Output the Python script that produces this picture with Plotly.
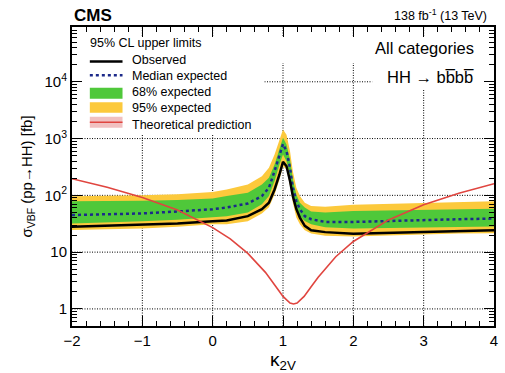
import math
import plotly.graph_objects as go

# kappa_2V scan points for the limit curves
k2v = [-2, -1.5, -1, -0.5, 0, 0.2, 0.5, 0.7, 0.8, 0.88, 0.95, 1.0, 1.05, 1.1,
       1.14, 1.19, 1.24, 1.31, 1.4, 1.6, 2, 2.5, 3, 3.5, 4]

# 95% CL upper limits on sigma_VBF(pp->HH) [fb]
observed = [28, 29, 30, 32, 35, 36, 43, 57, 74, 127, 233, 390, 325, 179,
            97, 57, 40.6, 29, 24.3, 22.5, 21, 21.8, 22.7, 23.5, 24.3]
expected = [45, 46, 48, 52, 57, 61, 72, 97, 136, 267, 525, 800, 600, 305,
            136, 79, 57, 43, 38, 34, 34, 35.5, 37, 38, 39]
exp68_up = [79, 79, 80, 83, 88, 97, 111, 155, 205, 350, 690, 1030, 785, 425,
            190, 104, 74, 61, 52, 50, 53, 54, 55, 57, 58]
exp68_dn = [32, 33, 35, 37, 40.6, 43, 50, 70, 97, 179, 350, 525, 400, 218,
            97, 57, 43, 35.4, 31, 27.5, 26, 26.5, 27, 27.7, 28.3]
exp95_up = [96, 97, 100, 105, 114, 127, 155, 218, 305, 525, 960, 1450, 1170, 600,
            267, 136, 97, 74, 65, 63, 68, 71, 74, 77, 79]
exp95_dn = [24.6, 25, 26, 28, 31, 31, 35, 48, 62, 104, 190, 325, 285, 146,
            74, 40.6, 31, 24.3, 21.3, 19.4, 18.8, 19.7, 20.7, 21.2, 21.6]

# theoretical VBF HH cross section vs kappa_2V
k2v_th = [-2, -1.5, -1, -0.5, 0, 0.25, 0.5, 0.75, 0.9, 1.0, 1.1, 1.15, 1.2,
          1.3, 1.4, 1.5, 1.75, 2, 2.5, 3, 3.5, 4]
theory = [196, 139, 92, 55, 27, 17.1, 9.5, 4.4, 2.45, 1.66, 1.27, 1.22, 1.27,
          1.66, 2.45, 3.6, 8.3, 15.4, 36.9, 68, 109, 160]

x_range = [-2, 4]
y_range_log = [-0.301, 4.965]
x_ticks = [-2, -1, 0, 1, 2, 3, 4]
x_ticktext = ["\u22122", "\u22121", "0", "1", "2", "3", "4"]
y_ticks = [1, 10, 100, 1000, 10000]
y_ticktext = ["1", "10", "10<sup>2</sup>", "10<sup>3</sup>", "10<sup>4</sup>"]

legend_labels = ["Observed", "Median expected", "68% expected",
                 "95% expected", "Theoretical prediction"]

GREEN = "#4fc83a"
YELLOW = "#fcc93c"
NAVY = "#1c2a8a"
RED = "#e0453f"
PINK = "rgba(232,150,150,0.6)"
FONT = "Liberation Sans, Arial, Helvetica, sans-serif"
GRID_DASH = "1px,1.5px"

W, H = 505, 373
L, R, T, B = 72, 498, 27, 327


def px(x):
    return (x - L) / (R - L)


def py(y):
    return (B - y) / (B - T)


def ylog_paper(v):
    return (math.log10(v) - y_range_log[0]) / (y_range_log[1] - y_range_log[0])


fig = go.Figure()

# 95% band
fig.add_trace(go.Scatter(x=k2v, y=exp95_dn, mode="lines", line=dict(width=0),
                         showlegend=False, hoverinfo="skip"))
fig.add_trace(go.Scatter(x=k2v, y=exp95_up, mode="lines", line=dict(width=0),
                         fill="tonexty", fillcolor=YELLOW, showlegend=False))
# 68% band
fig.add_trace(go.Scatter(x=k2v, y=exp68_dn, mode="lines", line=dict(width=0),
                         showlegend=False, hoverinfo="skip"))
fig.add_trace(go.Scatter(x=k2v, y=exp68_up, mode="lines", line=dict(width=0),
                         fill="tonexty", fillcolor=GREEN, showlegend=False))
# median expected
fig.add_trace(go.Scatter(x=k2v, y=expected, mode="lines",
                         line=dict(color=NAVY, width=2.5, dash="dot"),
                         showlegend=False))
# observed
fig.add_trace(go.Scatter(x=k2v, y=observed, mode="lines",
                         line=dict(color="black", width=2.5), showlegend=False))
# theory
fig.add_trace(go.Scatter(x=k2v_th, y=theory, mode="lines",
                         line=dict(color=RED, width=1.6), showlegend=False))

shapes = []
# dotted grid, drawn beneath the curves
for xv in x_ticks[1:-1]:
    shapes.append(dict(type="line", xref="x", yref="paper", x0=xv, x1=xv, y0=0, y1=1,
                       line=dict(color="black", width=1, dash=GRID_DASH), layer="below"))
for yv in y_ticks:
    yp = ylog_paper(yv)
    shapes.append(dict(type="line", xref="paper", yref="paper", x0=0, x1=1, y0=yp, y1=yp,
                       line=dict(color="black", width=1, dash=GRID_DASH), layer="below"))
# white panels for the legend and labels, covering the grid
for x0, y0, x1, y1 in [(73, 36, 266, 135), (266, 36, 497, 63), (375, 63, 497, 90)]:
    shapes.append(dict(type="rect", xref="paper", yref="paper",
                       x0=px(x0), x1=px(x1), y0=py(y1), y1=py(y0),
                       fillcolor="white", line=dict(width=0), layer="below"))

# legend symbols
sx0, sx1 = 90, 123
shapes.append(dict(type="line", xref="paper", yref="paper", x0=px(sx0), x1=px(sx1),
                   y0=py(61.5), y1=py(61.5), line=dict(color="black", width=2.5)))
shapes.append(dict(type="line", xref="paper", yref="paper", x0=px(sx0), x1=px(sx1),
                   y0=py(75.5), y1=py(75.5), line=dict(color=NAVY, width=2.5, dash="dot")))
shapes.append(dict(type="rect", xref="paper", yref="paper", x0=px(sx0), x1=px(sx1),
                   y0=py(99), y1=py(88), fillcolor=GREEN, line=dict(width=0)))
shapes.append(dict(type="rect", xref="paper", yref="paper", x0=px(sx0), x1=px(sx1),
                   y0=py(113), y1=py(102.5), fillcolor=YELLOW, line=dict(width=0)))
shapes.append(dict(type="rect", xref="paper", yref="paper", x0=px(sx0), x1=px(sx1),
                   y0=py(128), y1=py(117), fillcolor=PINK, line=dict(width=0)))
shapes.append(dict(type="line", xref="paper", yref="paper", x0=px(sx0), x1=px(sx1),
                   y0=py(122.5), y1=py(122.5), line=dict(color=RED, width=1.6)))

annotations = []
annotations.append(dict(text="95% CL upper limits", x=px(88), y=py(43),
                        xref="paper", yref="paper", xanchor="left", yanchor="middle",
                        showarrow=False, font=dict(size=12.5, color="black", family=FONT)))
for lab, yc in zip(legend_labels, [60, 76, 92, 108, 125]):
    annotations.append(dict(text=lab, x=px(131), y=py(yc), xref="paper", yref="paper",
                            xanchor="left", yanchor="middle", showarrow=False,
                            font=dict(size=12.5, color="black", family=FONT)))

annotations.append(dict(text="<b>CMS</b>", x=0, y=py(15), xref="paper", yref="paper",
                        xanchor="left", yanchor="middle", showarrow=False,
                        font=dict(size=17, color="black", family=FONT)))
annotations.append(dict(text="138 fb<sup>-1</sup> (13 TeV)", x=px(493), y=py(15),
                        xref="paper", yref="paper", xanchor="right", yanchor="middle",
                        showarrow=False, font=dict(size=12.5, color="black", family=FONT)))
annotations.append(dict(text="All categories", x=px(480), y=py(48),
                        xref="paper", yref="paper", xanchor="right", yanchor="middle",
                        showarrow=False, font=dict(size=16.5, color="black", family=FONT)))
annotations.append(dict(text="HH \u2192 bb\u0305bb\u0305",
                        x=px(480), y=py(77),
                        xref="paper", yref="paper", xanchor="right", yanchor="middle",
                        showarrow=False, font=dict(size=16.5, color="black", family=FONT)))

axis_common = dict(showline=True, linecolor="black", linewidth=2, mirror="allticks",
                   ticks="inside", tickcolor="black", tickwidth=1.2, ticklen=10,
                   showgrid=False, zeroline=False,
                   tickfont=dict(size=15, color="black", family=FONT))

minor_y = [m * 10 ** e for e in range(-1, 5) for m in range(2, 10)]

fig.update_xaxes(range=x_range, tickmode="array", tickvals=x_ticks, ticktext=x_ticktext,
                 minor=dict(ticks="inside", ticklen=5, tickcolor="black", dtick=0.2,
                            showgrid=False),
                 title=dict(text="\u03ba<sub>2V</sub>", font=dict(size=19, color="black", family=FONT),
                            standoff=4),
                 **axis_common)
fig.update_yaxes(type="log", range=y_range_log, tickmode="array", tickvals=y_ticks,
                 ticktext=y_ticktext,
                 minor=dict(ticks="inside", ticklen=5, tickcolor="black", tickmode="array",
                            tickvals=minor_y, showgrid=False),
                 title=dict(text="\u03c3<sub>VBF</sub> (pp\u2192HH) [fb]",
                            font=dict(size=15, color="black", family=FONT), standoff=8),
                 **axis_common)

fig.update_layout(width=W, height=H, margin=dict(l=L, r=W - R, t=T, b=H - B),
                  paper_bgcolor="white", plot_bgcolor="white",
                  shapes=shapes, annotations=annotations, showlegend=False,
                  font=dict(family=FONT, color="black"))

fig.write_html("out.html")
